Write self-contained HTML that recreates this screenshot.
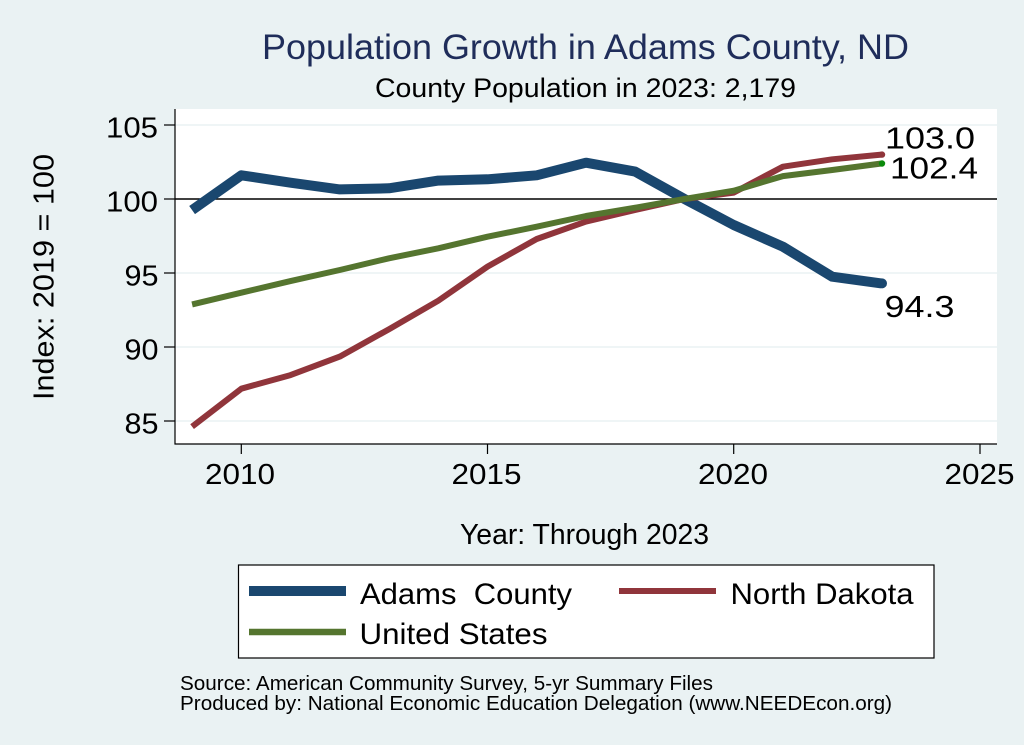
<!DOCTYPE html>
<html>
<head>
<meta charset="utf-8">
<style>
  html, body { margin:0; padding:0; background:#eaf2f3; }
  svg { display:block; }
  text { font-family: "Liberation Sans", Arial, sans-serif; }
</style>
</head>
<body>
<svg width="1024" height="745" viewBox="0 0 1024 745" xmlns="http://www.w3.org/2000/svg">
  <rect x="0" y="0" width="1024" height="745" fill="#eaf2f3"/>

  <!-- Titles -->
  <text x="262" y="59" font-size="35" fill="#1f2d5a" textLength="647" lengthAdjust="spacingAndGlyphs">Population Growth in Adams County, ND</text>
  <text x="375" y="97" font-size="27" fill="#000" textLength="421" lengthAdjust="spacingAndGlyphs">County Population in 2023: 2,179</text>

  <!-- Plot region -->
  <rect x="175" y="109" width="822" height="335" fill="#ffffff"/>

  <!-- Gridlines -->
  <g stroke="#eaf2f3" stroke-width="1.6">
    <line x1="175" y1="125" x2="997" y2="125"/>
    <line x1="175" y1="273" x2="997" y2="273"/>
    <line x1="175" y1="347" x2="997" y2="347"/>
    <line x1="175" y1="421" x2="997" y2="421"/>
  </g>
  <!-- Reference line at 100 -->
  <line x1="175" y1="199" x2="997" y2="199" stroke="#000" stroke-width="1.6"/>

  <!-- Axes -->
  <g stroke="#000" stroke-width="1.2">
    <line x1="175" y1="109" x2="175" y2="444.5"/>
    <line x1="174.5" y1="444" x2="997" y2="444"/>
    <!-- y ticks -->
    <line x1="164" y1="125" x2="175" y2="125"/>
    <line x1="164" y1="199" x2="175" y2="199"/>
    <line x1="164" y1="273" x2="175" y2="273"/>
    <line x1="164" y1="347" x2="175" y2="347"/>
    <line x1="164" y1="421" x2="175" y2="421"/>
    <!-- x ticks -->
    <line x1="241.3" y1="444" x2="241.3" y2="454"/>
    <line x1="487.5" y1="444" x2="487.5" y2="454"/>
    <line x1="733.7" y1="444" x2="733.7" y2="454"/>
    <line x1="980" y1="444" x2="980" y2="454"/>
  </g>

  <!-- Y tick labels -->
  <g font-size="29" fill="#000">
    <text x="106" y="137.5" textLength="52" lengthAdjust="spacingAndGlyphs">105</text>
    <text x="106" y="211.5" textLength="52" lengthAdjust="spacingAndGlyphs">100</text>
    <text x="124.5" y="285.5" textLength="34" lengthAdjust="spacingAndGlyphs">95</text>
    <text x="124.5" y="359.5" textLength="34" lengthAdjust="spacingAndGlyphs">90</text>
    <text x="124.5" y="433.5" textLength="34" lengthAdjust="spacingAndGlyphs">85</text>
  </g>

  <!-- X tick labels -->
  <g font-size="29" fill="#000">
    <text x="205" y="484" textLength="70" lengthAdjust="spacingAndGlyphs">2010</text>
    <text x="451.5" y="484" textLength="70" lengthAdjust="spacingAndGlyphs">2015</text>
    <text x="698" y="484" textLength="70" lengthAdjust="spacingAndGlyphs">2020</text>
    <text x="944.5" y="484" textLength="70" lengthAdjust="spacingAndGlyphs">2025</text>
  </g>

  <!-- Axis titles -->
  <text x="460" y="544" font-size="29" fill="#000" textLength="249" lengthAdjust="spacingAndGlyphs">Year: Through 2023</text>
  <text transform="translate(53.5,400) rotate(-90)" x="0" y="0" font-size="29" fill="#000" textLength="246" lengthAdjust="spacingAndGlyphs">Index: 2019 = 100</text>

  <!-- Series -->
  <g fill="none" stroke-linejoin="round" stroke-linecap="butt">
    <polyline stroke="#1a476f" stroke-width="10"
      points="192.1,210.1 241.3,175.3 290.5,182.7 339.8,189.4 389.0,188.3 438.3,180.6 487.5,179.3 536.7,175.3 586.0,162.7 635.2,171.6 684.5,199 733.7,225.0 782.9,246.7 832.2,276.7 881.4,283.4"/>
    <polyline stroke="#90353b" stroke-width="6"
      points="192.1,426.6 241.3,388.7 290.5,375.1 339.8,356.6 389.0,329.2 438.3,300.7 487.5,266.6 536.7,239.0 586.0,221.6 635.2,210.0 684.5,199 733.7,192.6 782.9,166.7 832.2,159.3 881.4,154.6"/>
    <polyline stroke="#55752f" stroke-width="6"
      points="192.1,304.4 241.3,292.7 290.5,281.1 339.8,270.0 389.0,258.3 438.3,248.3 487.5,236.7 536.7,226.7 586.0,216.0 635.2,207.7 684.5,199 733.7,190.7 782.9,176.1 832.2,170.0 881.4,163.5"/>
  </g>
  <circle cx="882" cy="283.4" r="5" fill="#1a476f"/>
  <circle cx="882" cy="154.6" r="3.2" fill="#90353b"/>
  <circle cx="882" cy="163.5" r="3.2" fill="#0a8a0a"/>

  <!-- End labels -->
  <g font-size="31" fill="#000">
    <text x="885" y="148.5" textLength="90" lengthAdjust="spacingAndGlyphs">103.0</text>
    <text x="890" y="178.5" textLength="88" lengthAdjust="spacingAndGlyphs">102.4</text>
    <text x="884.5" y="317" textLength="70" lengthAdjust="spacingAndGlyphs">94.3</text>
  </g>

  <!-- Legend -->
  <rect x="238.5" y="565" width="695.5" height="93" fill="#ffffff" stroke="#000" stroke-width="1.2"/>
  <line x1="249" y1="591" x2="346" y2="591" stroke="#1a476f" stroke-width="10"/>
  <line x1="619" y1="591" x2="716" y2="591" stroke="#90353b" stroke-width="6"/>
  <line x1="249" y1="632" x2="346" y2="632" stroke="#55752f" stroke-width="6.5"/>
  <g font-size="30" fill="#000">
    <text x="360" y="604" textLength="212" lengthAdjust="spacingAndGlyphs" xml:space="preserve">Adams  County</text>
    <text x="730.5" y="604" textLength="183" lengthAdjust="spacingAndGlyphs">North Dakota</text>
    <text x="359.5" y="644" textLength="188" lengthAdjust="spacingAndGlyphs">United States</text>
  </g>

  <!-- Source notes -->
  <g font-size="20" fill="#000">
    <text x="180" y="690" textLength="533" lengthAdjust="spacingAndGlyphs">Source: American Community Survey, 5-yr Summary Files</text>
    <text x="180" y="710" textLength="712" lengthAdjust="spacingAndGlyphs">Produced by: National Economic Education Delegation (www.NEEDEcon.org)</text>
  </g>
</svg>
</body>
</html>
